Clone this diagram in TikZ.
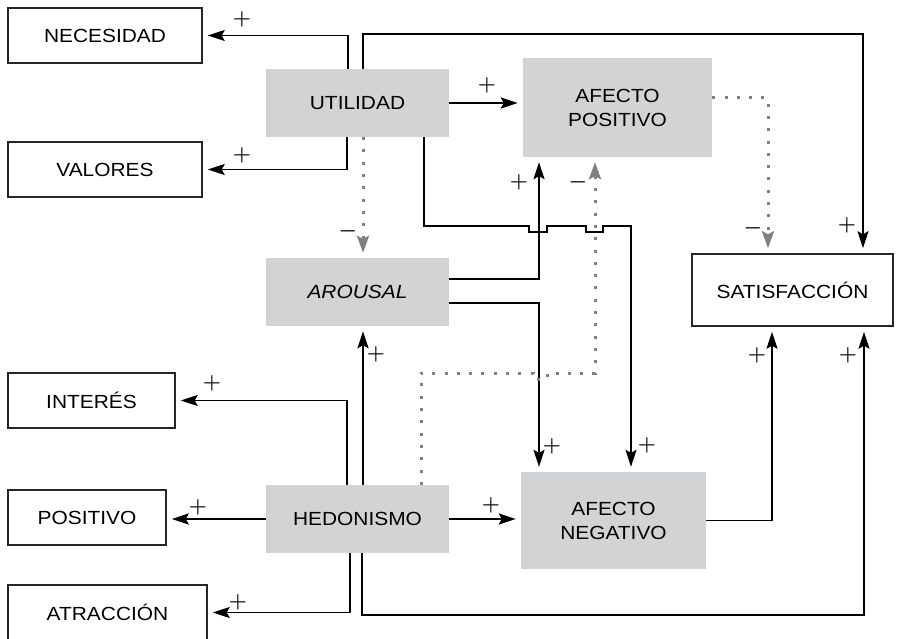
\documentclass[tikz,border=0pt]{standalone}
\usepackage{fontspec}
\setmainfont{Liberation Sans}[FakeStretch=1.1]
\usetikzlibrary{arrows.meta,positioning}
\definecolor{boxgray}{RGB}{209,211,212}
\definecolor{dotgray}{RGB}{128,128,128}

\begin{document}
\begin{tikzpicture}[
    x=1pt,y=-1pt,
    plain/.style={rectangle,draw=black!85,line width=1.5pt,font=\fontsize{19}{24}\selectfont,align=center,inner sep=0pt},
    shade/.style={rectangle,fill=boxgray,font=\fontsize{19}{24}\selectfont,align=center,inner sep=0pt},
    link/.style={line width=1.5pt,-{Stealth[length=17pt,width=11pt,inset=3pt]},shorten >=5pt},
    boldlink/.style={link,line width=2.5pt},
    dotlink/.style={draw=dotgray,line width=3pt,dash pattern=on 3pt off 9.3pt,-{Stealth[length=17pt,width=12pt,inset=3pt]},shorten >=5pt},
    sign/.style={font=\fontsize{21}{21}\selectfont\boldmath,inner sep=0pt}
]
    \useasboundingbox (0,0) rectangle (903,639);

    % Left column
    \node[plain,minimum width=194pt,minimum height=55pt] (nec) at (105,35.5) {NECESIDAD};
    \node[plain,minimum width=194pt,minimum height=55pt] (val) at (105,169.5) {VALORES};
    \node[plain,minimum width=167pt,minimum height=55pt] (inter) at (91.5,400.5) {INTERÉS};
    \node[plain,minimum width=158pt,minimum height=55pt] (pos) at (87,517.5) {POSITIVO};
    \node[plain,minimum width=199pt,minimum height=55pt] (atr) at (107.5,612.5) {ATRACCIÓN};

    % Middle column
    \node[shade,minimum width=183pt,minimum height=68pt] (util) at (357.5,103) {UTILIDAD};
    \node[shade,minimum width=183pt,minimum height=68pt] (aro) at (357.5,292) {\itshape AROUSAL};
    \node[shade,minimum width=183pt,minimum height=68pt] (hed) at (357.5,519) {HEDONISMO};

    % Right side
    \node[shade,minimum width=189pt,minimum height=99pt] (afpos) at (617.5,107.5) {AFECTO\\POSITIVO};
    \node[shade,minimum width=185pt,minimum height=97pt] (afneg) at (613.5,520.5) {AFECTO\\NEGATIVO};
    \node[plain,minimum width=201pt,minimum height=72pt] (sat) at (792.5,290) {SATISFACCIÓN};

    % Utilidad
    \draw[link] (348,0 |- util.north) |- (nec);
    \draw[link] (347,0 |- util.south) |- (val);
    \draw[link] (363,0 |- util.north) -- (363,34) -| (863,0 |- sat.north);
    \draw[boldlink] (util.east) -- (util.east -| afpos.west);
    \draw[dotlink] (363,0 |- util.south) -- (363,0 |- aro.north);
    \draw[link] (424,0 |- util.south) -- (424,226) -- (529,226) -- ++(0,6) -- ++(18,0) -- ++(0,-6)
        -- (586,226) -- ++(0,6) -- ++(17,0) -- ++(0,-6) -- (631,226) -- (631,0 |- afneg.north);

    % Arousal
    \draw[link] (aro.east |- 0,279) -| (539,0 |- afpos.south);
    \draw[link] (aro.east |- 0,303) -| (539,0 |- afneg.north);

    % Hedonismo
    \draw[link] (347,0 |- hed.north) |- (inter);
    \draw[boldlink] (363,0 |- hed.north) -- (363,0 |- aro.south);
    \draw[boldlink] (hed.west) -- (hed.west -| pos.east);
    \draw[link] (350,0 |- hed.south) |- (atr);
    \draw[link] (362,0 |- hed.south) -- (362,615) -| (864,0 |- sat.south);
    \draw[boldlink] (hed.east) -- (hed.east -| afneg.west);
    \draw[dotlink] (421,0 |- hed.north) -- (421,373) -- (533,373) -- ++(0,6) -- ++(14,0) -- ++(0,-6)
        -- (595,373) -- (595,0 |- afpos.south);

    % Afectos
    \draw[dotlink] (afpos.east |- 0,98) -| (768,0 |- sat.north);
    \draw[link] (afneg.east) -| (772,0 |- sat.south);

    % Signs
    \node[sign] (sNec) at (242,19) {$+$};
    \node[sign] (sVal) at (242,155) {$+$};
    \node[sign] (sAfp) at (487,85) {$+$};
    \node[sign] (sAro) at (348,231) {$-$};
    \node[sign] (sTop) at (847,225) {$+$};
    \node[sign] (sDot) at (753,228) {$-$};
    \node[sign] (sArp) at (519,182) {$+$};
    \node[sign] (sHdp) at (578,182) {$-$};
    \node[sign] (sHar) at (376,354) {$+$};
    \node[sign] (sInt) at (212,383) {$+$};
    \node[sign] (sPos) at (198,507) {$+$};
    \node[sign] (sAtr) at (238,602) {$+$};
    \node[sign] (sHan) at (491,505) {$+$};
    \node[sign] (sAan) at (552,446) {$+$};
    \node[sign] (sUan) at (647,445) {$+$};
    \node[sign] (sNes) at (757,355) {$+$};
    \node[sign] (sHes) at (848,355) {$+$};
\end{tikzpicture}
\end{document}
